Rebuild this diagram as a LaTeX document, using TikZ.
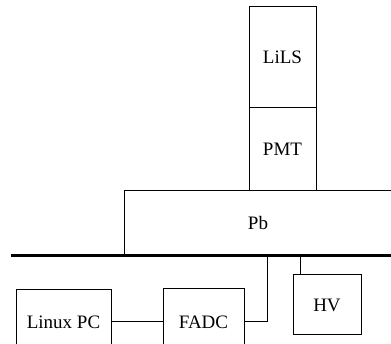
\documentclass[tikz,border=0pt]{standalone}
\usepackage{fontspec}
\setmainfont{Liberation Serif}
\usetikzlibrary{calc}
\tikzset{
	block/.style={draw,line width=1pt,fill=white,inner sep=0pt,font=\fontsize{19}{21}\selectfont},
	wire/.style={line width=1pt}
}

\begin{document}
\begin{tikzpicture}[x=1pt,y=-1pt]
			\useasboundingbox (0,0) rectangle (391,344);
			\clip (0,0) rectangle (391,344);
			\node[block,minimum width=67pt,minimum height=101pt] (lils) at (282.5,57.5) {LiLS};
			\node[block,minimum width=67pt,minimum height=83pt] (pmt) at (282.5,149.5) {PMT};
			\node[block,minimum width=268pt,minimum height=64pt] (pb) at (258,223) {Pb};
			\coordinate (busL) at (11,256);
			\coordinate (busR) at (392,256);
			\draw[line width=3pt] (busL)--(busR);
			\node[block,minimum width=95pt,minimum height=64pt] (pc) at (63.5,322) {Linux PC};
			\node[block,minimum width=81pt,minimum height=66pt] (fadc) at (203.5,322) {FADC};
			\node[block,minimum width=68pt,minimum height=60pt] (hv) at (327,305) {HV};
			\coordinate (fadctap) at (267,256);
			\coordinate (hvtap) at (300,256);
			\draw[wire] (pc.east)--(fadc.west);
			\draw[wire] (fadc.east)-|(fadctap);
			\draw[wire] (hvtap)--(hvtap|-hv.north);
		\end{tikzpicture}
\end{document}
